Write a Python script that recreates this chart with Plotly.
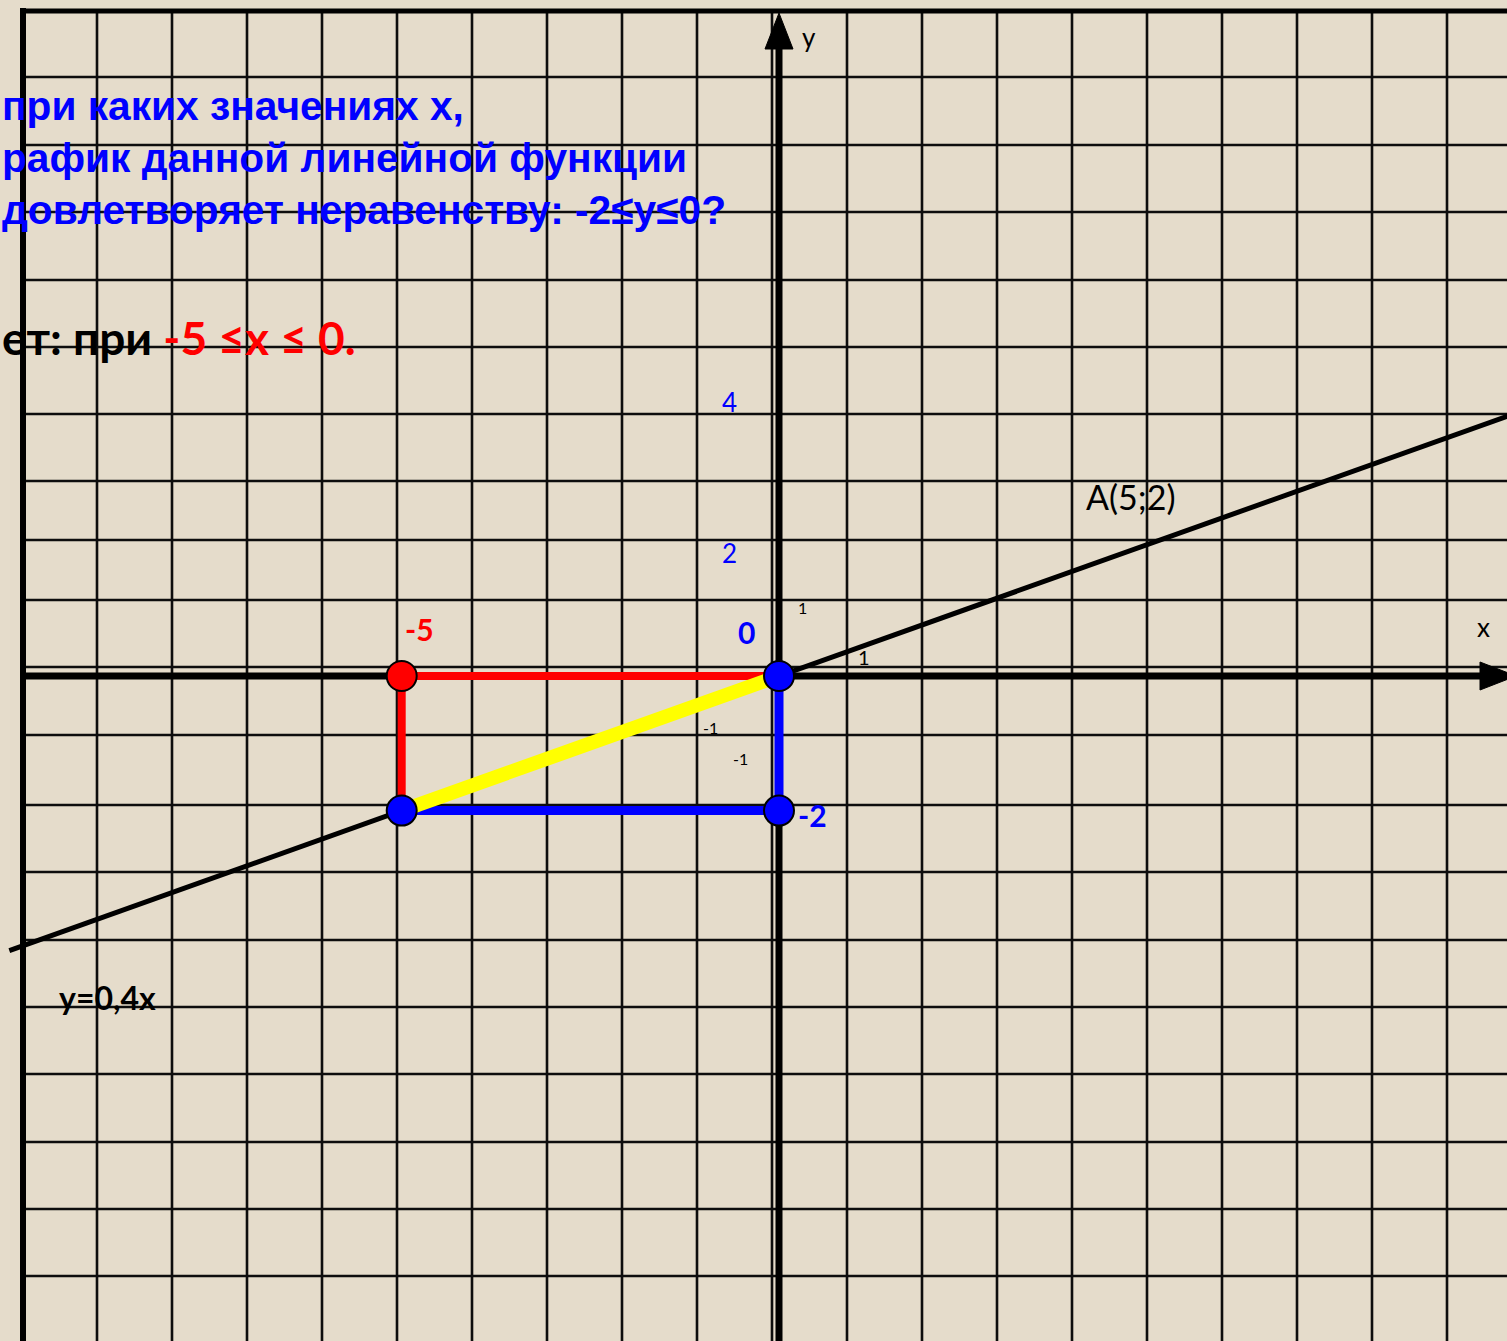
import plotly.graph_objects as go

W, H = 1507, 1341

# ---------------- data ----------------
slope = 0.4                       # y = 0.4x
func_x = [-10.2, 10.2]            # drawn extent of the graph
func_y = [slope * v for v in func_x]

red_x = [-5, -5, 0]               # red leg: (-5;-2) -> (-5;0) -> (0;0)
red_y = [-2, 0, 0]
blue_x = [-5, 0, 0]               # blue leg: (-5;-2) -> (0;-2) -> (0;0)
blue_y = [-2, -2, 0]
seg_x = [-5, 0]                   # highlighted part of the graph
seg_y = [slope * v for v in seg_x]

red_pt_x = [-5]
red_pt_y = [0]
blue_pt_x = [-5, 0, 0]
blue_pt_y = [-2, 0, -2]

# ---------------- pixel <-> data mapping (layout only) ----------------
OX, OY = 779.0, 676.0             # pixel position of the origin
UX, UY = 75.46, 67.3              # pixels per unit
def dx(px): return (px - OX) / UX
def dy(py): return (OY - py) / UY
def pxp(px): return px / W
def pyp(py): return 1 - py / H

x_range = [dx(0), dx(W)]
y_range = [dy(H), dy(0)]

BG = "#E5DCCB"
INK = "#0d0d0d"

# grid positions (pixels)
grid_cols = [22 + 75 * k for k in range(1, 20)]
grid_rows = [77, 145, 212, 280, 347, 414, 481, 540, 600, 667, 735, 805,
             872, 940, 1007, 1074, 1142, 1209, 1276]
BORDER_X, BORDER_Y = 23, 11

shapes = []
for c in grid_cols:
    shapes.append(dict(type="line", xref="x", yref="y", layer="below",
                       x0=dx(c), x1=dx(c), y0=dy(BORDER_Y), y1=dy(H + 5),
                       line=dict(color=INK, width=2.6)))
for r in grid_rows:
    shapes.append(dict(type="line", xref="x", yref="y", layer="below",
                       x0=dx(BORDER_X), x1=dx(W + 5), y0=dy(r), y1=dy(r),
                       line=dict(color=INK, width=2.6)))
# frame (left and top)
shapes.append(dict(type="line", xref="x", yref="y", layer="below",
                   x0=dx(BORDER_X), x1=dx(BORDER_X), y0=dy(8), y1=dy(H + 5),
                   line=dict(color="black", width=6)))
shapes.append(dict(type="line", xref="x", yref="y", layer="below",
                   x0=dx(20), x1=dx(W + 5), y0=dy(BORDER_Y), y1=dy(BORDER_Y),
                   line=dict(color="black", width=5)))
# coordinate axes
shapes.append(dict(type="line", xref="x", yref="y", layer="below",
                   x0=dx(BORDER_X), x1=dx(1485), y0=0, y1=0,
                   line=dict(color="black", width=7)))
shapes.append(dict(type="line", xref="x", yref="y", layer="below",
                   x0=0, x1=0, y0=dy(H + 5), y1=dy(45),
                   line=dict(color="black", width=7)))
# arrow heads
ytip, ybase, hw = dy(13), dy(49), 14 / UX
shapes.append(dict(type="path", xref="x", yref="y", layer="below",
                   path=f"M {-hw} {ybase} L {hw} {ybase} L 0 {ytip} Z",
                   fillcolor="black", line=dict(color="black", width=1)))
xtip, xbase, hh = dx(1516), dx(1480), 14 / UY
shapes.append(dict(type="path", xref="x", yref="y", layer="below",
                   path=f"M {xbase} {-hh} L {xbase} {hh} L {xtip} 0 Z",
                   fillcolor="black", line=dict(color="black", width=1)))

fig = go.Figure()
fig.add_trace(go.Scatter(x=func_x, y=func_y, mode="lines",
                         line=dict(color="black", width=5), hoverinfo="skip"))
fig.add_trace(go.Scatter(x=red_x, y=red_y, mode="lines",
                         line=dict(color="#FF0000", width=8), hoverinfo="skip"))
fig.add_trace(go.Scatter(x=blue_x, y=blue_y, mode="lines",
                         line=dict(color="#0000FF", width=9), hoverinfo="skip"))
fig.add_trace(go.Scatter(x=seg_x, y=seg_y, mode="lines",
                         line=dict(color="#FFFF00", width=14), hoverinfo="skip"))
fig.add_trace(go.Scatter(x=red_pt_x, y=red_pt_y, mode="markers",
                         marker=dict(size=30, color="#FF0000",
                                     line=dict(color="black", width=2)),
                         hoverinfo="skip"))
fig.add_trace(go.Scatter(x=blue_pt_x, y=blue_pt_y, mode="markers",
                         marker=dict(size=30, color="#0000FF",
                                     line=dict(color="black", width=2)),
                         hoverinfo="skip"))

QFONT = "Liberation Sans, Arial, sans-serif"
CFONT = "Lato, Open Sans, sans-serif"

annotations = []
def label(text, px, py, size, color="black", bold=False, family=CFONT,
          xanchor="center"):
    t = f"<b>{text}</b>" if bold else text
    annotations.append(dict(text=t, x=pxp(px), y=pyp(py), xref="paper",
                            yref="paper", showarrow=False, xanchor=xanchor,
                            yanchor="middle",
                            font=dict(size=size, color=color, family=family)))

# question text (the slide shows it cut by its left edge)
label("при каких значениях x,", 0, 106, 40.7, "#0000FF", True, QFONT, "left")
label("рафик данной линейной функции", 0, 158, 40.7, "#0000FF", True, QFONT, "left")
label("довлетворяет неравенству: -2≤y≤0?", 0, 210, 40.7, "#0000FF", True, QFONT, "left")
label("ет: при <span style='color:#FF0000'>-5 ≤x ≤ 0.</span>", 0, 338, 46,
      "black", True, CFONT, "left")

label("y", 809, 37, 26)
label("x", 1483, 627, 26)
label("A(5;2)", 1131, 497, 34)
label("y=0,4x", 107, 997, 32, bold=True)
label("-5", 419, 629, 30, "#FF0000", True)
label("0", 746, 632, 30, "#0000FF", True)
label("-2", 812, 815, 30, "#0000FF", True)
label("4", 729, 402, 26, "#0000FF")
label("2", 729, 553, 26, "#0000FF")
label("1", 802, 607, 16)
label("1", 864, 657, 20)
label("-1", 710, 727, 16)
label("-1", 740, 758, 16)

fig.update_layout(
    width=W, height=H,
    margin=dict(l=0, r=0, t=0, b=0),
    paper_bgcolor=BG, plot_bgcolor=BG,
    showlegend=False,
    xaxis=dict(range=x_range, visible=False, fixedrange=True),
    yaxis=dict(range=y_range, visible=False, fixedrange=True),
    shapes=shapes,
    annotations=annotations,
)

fig.write_html("out.html", config={"displayModeBar": False},
               post_script="document.body.style.margin='0';"
                           "document.body.style.background='" + BG + "';")
